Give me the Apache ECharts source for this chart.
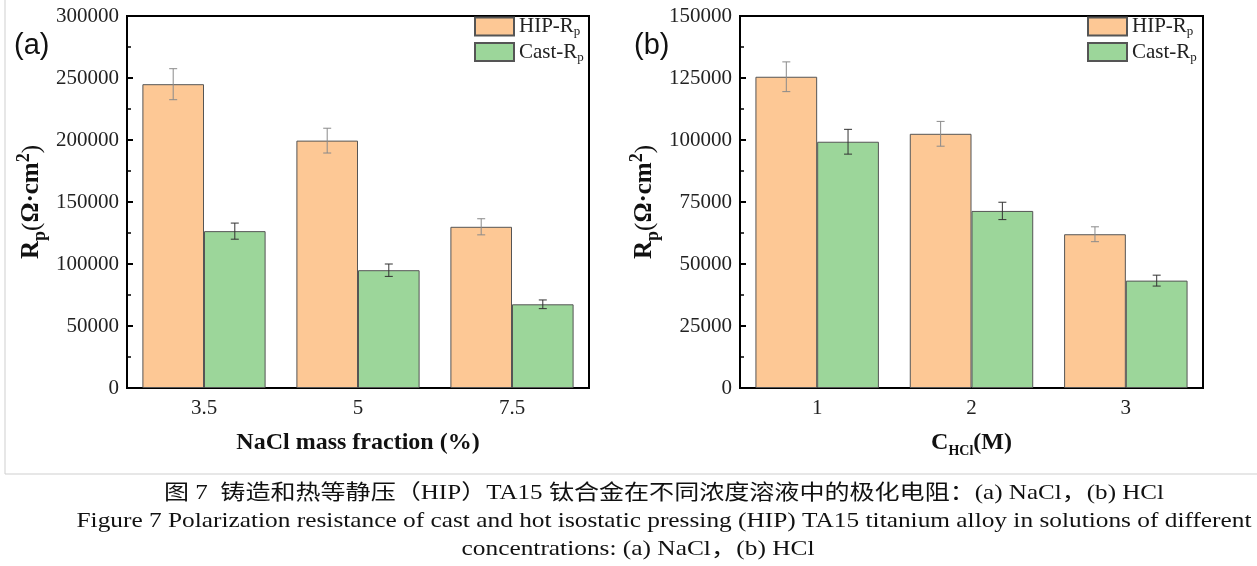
<!DOCTYPE html>
<html>
<head>
<meta charset="utf-8">
<script src="https://cdn.jsdelivr.net/npm/echarts@6/dist/echarts.min.js"></script>
<style>
html, body { margin: 0; padding: 0; background: #fff; }
#main { width: 1257px; height: 566px; }
</style>
</head>
<body>
<div id="main"></div>
<script>
// 数据
var naclCats = ['3.5', '5', '7.5'];
var hclCats = ['1', '2', '3'];
var naclHip = [245000, 199500, 130000];
var naclHipErr = [12500, 10000, 6500];
var naclCast = [126500, 95000, 67500];
var naclCastErr = [6500, 5000, 3500];
var hclHip = [125500, 102500, 62000];
var hclHipErr = [6000, 5000, 3000];
var hclCast = [99300, 71400, 43300];
var hclCastErr = [5000, 3500, 2200];
var naclTicks = [0, 300000, 50000];   // min, max, interval
var hclTicks = [0, 150000, 25000];

var serif = '"Liberation Serif", "Times New Roman", serif';
var cjk = '"Liberation Serif", "Noto Sans CJK SC", serif';
var orange = '#fdc895';
var green = '#9cd69a';

var myChart = echarts.init(document.getElementById('main'));

// 误差棒
function errBar(side, color) {
    return function (params, api) {
        var x = api.value(0), v = api.value(1), e = api.value(2);
        var band = api.size([1, 0])[0];
        var off = band * 0.8 / 4 * side;
        var top = api.coord([x, v + e]);
        var bot = api.coord([x, v - e]);
        var cx = top[0] + off, w = 4;
        var st = { stroke: color, lineWidth: 1 };
        return {
            type: 'group',
            children: [
                { type: 'line', shape: { x1: cx, y1: top[1], x2: cx, y2: bot[1] }, style: st },
                { type: 'line', shape: { x1: cx - w, y1: top[1], x2: cx + w, y2: top[1] }, style: st },
                { type: 'line', shape: { x1: cx - w, y1: bot[1], x2: cx + w, y2: bot[1] }, style: st }
            ]
        };
    };
}

function errData(vals, errs) {
    return vals.map(function (v, i) { return [i, v, errs[i]]; });
}

var nameRich = {
    b: { fontFamily: serif, fontWeight: 'bold', fontSize: 25, lineHeight: 34, color: '#111' },
    n: { fontFamily: serif, fontWeight: 'normal', fontSize: 25, lineHeight: 34, color: '#111' },
    s: { fontFamily: serif, fontWeight: 'bold', fontSize: 18, verticalAlign: 'bottom', color: '#111' },
    u: { fontFamily: serif, fontWeight: 'bold', fontSize: 18, verticalAlign: 'top', color: '#111' }
};
var xNameRich = {
    b: { fontFamily: serif, fontWeight: 'bold', fontSize: 24, lineHeight: 30, color: '#111' },
    s: { fontFamily: serif, fontWeight: 'bold', fontSize: 14, verticalAlign: 'bottom', color: '#111' }
};

function xAxes(gi, cats, name) {
    return [{
        type: 'category', gridIndex: gi, data: cats,
        axisLine: { lineStyle: { color: '#000', width: 2 } },
        axisTick: { inside: true, length: 5, lineStyle: { color: '#000', width: 2 } },
        axisLabel: { fontFamily: serif, fontSize: 21, color: '#222', margin: 10 },
        name: name, nameLocation: 'middle', nameGap: 40,
        nameTextStyle: { rich: xNameRich }
    }, {
        type: 'category', gridIndex: gi, data: cats, position: 'bottom',
        axisLine: { show: false },
        axisTick: { inside: true, alignWithLabel: true, length: 5, lineStyle: { color: '#000', width: 2 } },
        axisLabel: { show: false }
    }];
}

function yAxis(gi, ticks) {
    return {
        type: 'value', gridIndex: gi, min: ticks[0], max: ticks[1], interval: ticks[2],
        axisLine: { show: true, lineStyle: { color: '#000', width: 2 } },
        axisTick: { show: true, inside: true, length: 6, lineStyle: { color: '#000', width: 2 } },
        minorTick: { show: true, splitNumber: 2, length: 4, lineStyle: { color: '#000', width: 1.5 } },
        splitLine: { show: false },
        axisLabel: { fontFamily: serif, fontSize: 21, color: '#222', margin: 8,
            formatter: function (v) { return String(v); } },
        name: '{b|R}{s|p}{n|(}{b|Ω·cm}{u|2}{n|)}',
        nameLocation: 'middle', nameRotate: 90, nameGap: 78,
        nameTextStyle: { rich: nameRich }
    };
}

function bars(name, xi, yi, data, color) {
    return {
        name: name, type: 'bar', xAxisIndex: xi, yAxisIndex: yi, data: data,
        barGap: '0%', barCategoryGap: '20%',
        itemStyle: { color: color, borderColor: '#555', borderWidth: 1 }
    };
}

function errs(xi, yi, vals, e, side, color) {
    return {
        type: 'custom', xAxisIndex: xi, yAxisIndex: yi, z: 5,
        renderItem: errBar(side, color), data: errData(vals, e),
        encode: { x: 0, y: 1 }, silent: true
    };
}

function legend(left) {
    return {
        left: left, top: 16, orient: 'vertical', padding: 0,
        itemWidth: 39, itemHeight: 18, itemGap: 3, icon: 'rect',
        data: ['HIP-Rp', 'Cast-Rp'],
        formatter: function (n) { return n === 'HIP-Rp' ? '{t|HIP-R}{s|p}' : '{t|Cast-R}{s|p}'; },
        textStyle: {
            rich: {
                t: { fontFamily: serif, fontSize: 21, lineHeight: 24, color: '#222' },
                s: { fontFamily: serif, fontSize: 13, verticalAlign: 'bottom', color: '#222' }
            }
        }
    };
}

// 图注宽度按原图拉伸
var ctx = document.createElement('canvas').getContext('2d');
function fit(text, font, width) {
    ctx.font = font;
    return width / ctx.measureText(text).width;
}
var cap1 = '图 7  铸造和热等静压（HIP）TA15 钛合金在不同浓度溶液中的极化电阻：(a) NaCl，(b) HCl';
var cap2 = 'Figure 7 Polarization resistance of cast and hot isostatic pressing (HIP) TA15 titanium alloy in solutions of different';
var cap3 = 'concentrations: (a) NaCl，(b) HCl';
var capFont = '21px ' + cjk;

function capText(t, cx, cy, w) {
    return {
        type: 'text', x: cx, y: cy, scaleX: fit(t, capFont, w),
        style: { text: t, x: 0, y: 0, font: capFont, textAlign: 'center', textVerticalAlign: 'middle', fill: '#111' }
    };
}

var option = {
    animation: false,
    backgroundColor: '#fff',
    grid: [
        { left: 127, right: 668, top: 16, bottom: 178, show: true, borderColor: '#000', borderWidth: 2 },
        { left: 740, right: 54, top: 16, bottom: 178, show: true, borderColor: '#000', borderWidth: 2 }
    ],
    legend: [legend(474), legend(1087)],
    xAxis: xAxes(0, naclCats, '{b|NaCl mass fraction (%)}').concat(xAxes(1, hclCats, '{b|C}{s|HCl}{b|(M)}')),
    yAxis: [yAxis(0, naclTicks), yAxis(1, hclTicks)],
    series: [
        bars('HIP-Rp', 0, 0, naclHip, orange),
        bars('Cast-Rp', 0, 0, naclCast, green),
        bars('HIP-Rp', 2, 1, hclHip, orange),
        bars('Cast-Rp', 2, 1, hclCast, green),
        errs(0, 0, naclHip, naclHipErr, -1, '#8a8a8a'),
        errs(0, 0, naclCast, naclCastErr, 1, '#333'),
        errs(2, 1, hclHip, hclHipErr, -1, '#8a8a8a'),
        errs(2, 1, hclCast, hclCastErr, 1, '#333')
    ],
    graphic: [
        { type: 'polyline', shape: { points: [[5, 0], [5, 474], [1257, 474]] }, style: { stroke: '#cfcfcf', lineWidth: 1, fill: null } },
        { type: 'text', x: 14, y: 31, style: { text: '(a)', font: '29px "Liberation Sans", Arial, sans-serif', fill: '#111' } },
        { type: 'text', x: 634, y: 31, style: { text: '(b)', font: '29px "Liberation Sans", Arial, sans-serif', fill: '#111' } },
        capText(cap1, 664, 493, 1000),
        capText(cap2, 664, 521, 1175),
        capText(cap3, 638, 549, 353)
    ]
};

myChart.setOption(option);
</script>
</body>
</html>
